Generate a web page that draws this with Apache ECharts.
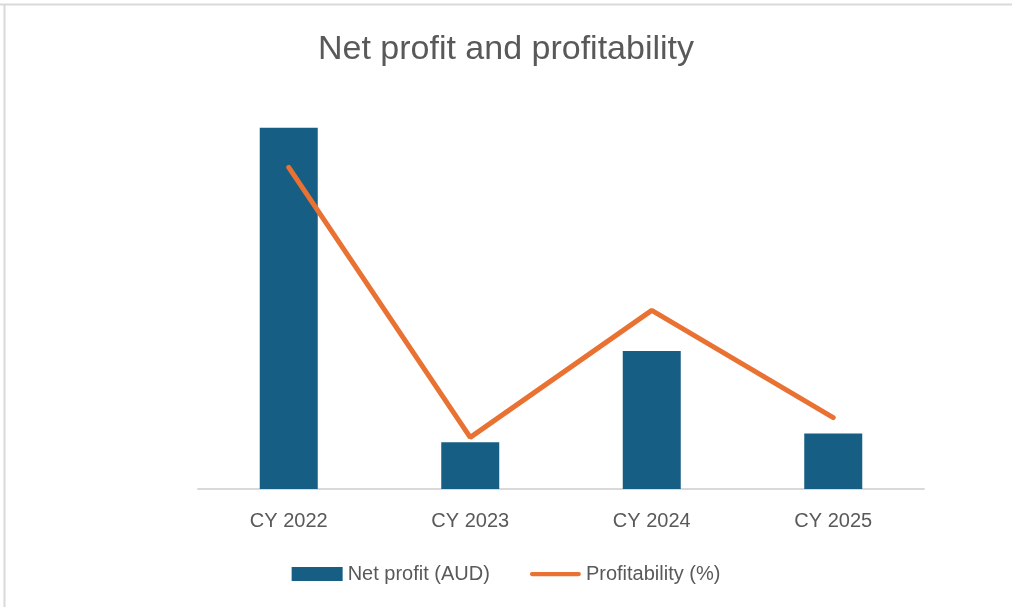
<!DOCTYPE html>
<html>
<head>
<meta charset="utf-8">
<script src="https://cdn.jsdelivr.net/npm/echarts@6/dist/echarts.min.js"></script>
<style>
  html, body { margin: 0; padding: 0; background: #fff; }
  #main { width: 1012px; height: 607px; }
</style>
</head>
<body>
<div id="main"></div>
<script>
// data
var years = ['CY 2022', 'CY 2023', 'CY 2024', 'CY 2025'];
var netProfit = [364000, 47000, 139000, 56000];   // AUD
var profitability = [32.4, 5.2, 18.0, 7.2];        // %

var chart = echarts.init(document.getElementById('main'));
var textColor = '#595959';
var orange = '#e97132';

var option = {
    backgroundColor: '#fff',
    animation: false,
    title: {
        text: 'Net profit and profitability',
        left: 'center',
        top: 28,
        textStyle: {
            color: textColor,
            fontSize: 34,
            fontWeight: 'normal',
            fontFamily: '"Liberation Sans", sans-serif'
        }
    },
    graphic: [
        { type: 'line', shape: { x1: 0, y1: 4.5, x2: 1012, y2: 4.5 }, style: { stroke: '#d9d9d9', lineWidth: 2 } },
        { type: 'line', shape: { x1: 4.5, y1: 4, x2: 4.5, y2: 607 }, style: { stroke: '#d9d9d9', lineWidth: 2 } }
    ],
    legend: {
        bottom: 18,
        left: 'center',
        itemWidth: 51,
        itemHeight: 14,
        itemGap: 40,
        textStyle: { color: textColor, fontSize: 20, fontFamily: '"Liberation Sans", sans-serif' },
        data: [
            { name: 'Net profit (AUD)', icon: 'rect' },
            { name: 'Profitability (%)', icon: 'path://M2.5,0 H57.5 A2.5,2.5 0 0 1 57.5,5 H2.5 A2.5,2.5 0 0 1 2.5,0 Z' }
        ]
    },
    grid: {
        left: 198,
        right: 88,
        top: 92,
        bottom: 118
    },
    xAxis: {
        type: 'category',
        data: years,
        axisTick: { show: false },
        axisLine: { lineStyle: { color: '#d9d9d9', width: 2 } },
        axisLabel: {
            color: textColor,
            fontSize: 20,
            margin: 22,
            fontFamily: '"Liberation Sans", sans-serif'
        }
    },
    yAxis: [{
        type: 'value',
        min: 0,
        max: 400000,
        show: false,
        splitLine: { show: false }
    }, {
        type: 'value',
        min: 0,
        max: 40,
        show: false,
        splitLine: { show: false }
    }],
    series: [{
        name: 'Net profit (AUD)',
        type: 'bar',
        data: netProfit,
        barWidth: 58,
        itemStyle: { color: '#165e83' }
    }, {
        name: 'Profitability (%)',
        type: 'line',
        yAxisIndex: 1,
        data: profitability,
        symbol: 'none',
        lineStyle: { color: orange, width: 5, cap: 'round' },
        itemStyle: { color: orange }
    }]
};

chart.setOption(option);
</script>
</body>
</html>
